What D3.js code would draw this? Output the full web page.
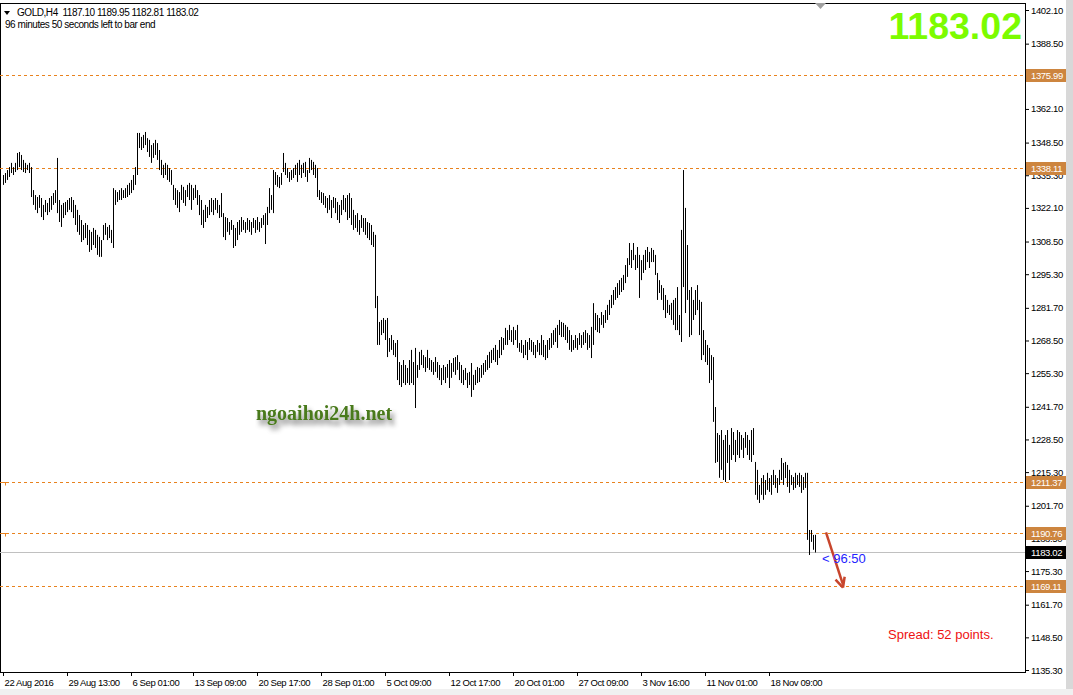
<!DOCTYPE html>
<html><head><meta charset="utf-8">
<script src="https://cdn.jsdelivr.net/npm/d3@7"></script>
<style>
html,body{margin:0;padding:0;background:#fff;overflow:hidden}
svg{display:block}
</style></head><body>
<svg id="c" width="1073" height="695"></svg>
<script>
// ---- DATA ----
const symbol = "GOLD,H4";
const lastOHLC = [1187.10, 1189.95, 1182.81, 1183.02];
const timerText = "96 minutes 50 seconds left to bar end";
const highs = [1335.4,1336.2,1337.4,1338.6,1340.3,1338.6,1340.3,1344.3,1344.7,1343.5,1341.5,1340.3,1339.5,1340.3,1338.6,1329.3,1327.3,1326.5,1327.3,1326.1,
1323.3,1325.3,1324.1,1326.1,1326.9,1328.1,1329.3,1342.3,1325.3,1323.3,1324.1,1324.5,1325.3,1326.1,1326.5,1325.3,1323.3,1321.3,1319.2,1317.2,
1315.2,1316.0,1315.2,1313.2,1312.4,1314.0,1313.2,1311.2,1310.4,1309.1,1315.2,1316.0,1314.4,1315.2,1313.2,1330.1,1329.3,1328.5,1329.3,1330.1,
1329.3,1330.1,1331.4,1332.2,1333.4,1335.4,1338.6,1352.4,1352.4,1350.8,1351.6,1352.8,1350.3,1349.6,1347.5,1348.3,1349.6,1348.3,1345.5,1341.5,
1339.5,1340.3,1339.5,1338.2,1337.4,1331.4,1330.1,1329.3,1328.5,1331.4,1330.6,1329.3,1331.4,1332.2,1331.4,1330.1,1331.4,1329.3,1327.3,1325.3,
1321.3,1323.3,1322.5,1325.3,1326.1,1325.3,1326.1,1325.3,1323.3,1328.1,1320.0,1318.4,1318.0,1316.4,1317.2,1315.2,1314.0,1316.4,1317.2,1318.4,
1317.2,1316.4,1318.0,1317.2,1316.4,1318.0,1317.2,1318.4,1316.4,1318.0,1319.2,1320.0,1322.5,1330.1,1327.3,1337.4,1336.6,1335.4,1334.6,1336.2,
1344.3,1340.3,1338.2,1336.6,1337.4,1338.2,1339.5,1340.3,1341.5,1339.5,1340.3,1340.7,1337.4,1342.3,1341.5,1340.7,1339.5,1338.2,1329.3,1328.5,
1328.1,1326.9,1326.1,1327.3,1325.3,1326.5,1326.1,1324.5,1323.3,1325.3,1327.3,1326.1,1327.3,1328.1,1326.1,1321.3,1319.2,1320.0,1317.2,1319.2,
1318.0,1318.0,1316.4,1316.0,1315.2,1312.4,1311.2,1286.5,1276.0,1276.8,1277.6,1276.8,1277.6,1269.5,1270.7,1268.7,1267.5,1268.7,1259.8,1258.6,
1260.6,1258.6,1257.4,1260.6,1264.7,1259.8,1265.5,1258.6,1263.9,1264.7,1262.6,1261.8,1264.7,1261.4,1260.6,1259.8,1261.8,1259.8,1258.6,1257.4,
1258.6,1257.8,1259.0,1260.6,1259.4,1261.4,1261.8,1262.6,1259.8,1258.6,1256.6,1257.4,1255.4,1255.8,1259.4,1254.6,1256.6,1257.8,1257.4,1258.6,
1259.4,1260.6,1262.6,1263.9,1264.7,1265.5,1266.7,1264.7,1268.7,1269.9,1269.5,1273.6,1272.7,1274.8,1272.7,1274.0,1272.7,1274.8,1267.5,1268.7,
1266.7,1268.7,1267.9,1269.5,1268.7,1267.9,1266.7,1268.7,1267.5,1270.7,1268.7,1266.7,1268.7,1269.5,1271.5,1272.7,1273.6,1274.8,1276.8,1276.0,
1275.6,1274.8,1274.0,1272.7,1270.7,1268.7,1270.7,1269.5,1271.5,1270.7,1271.9,1272.7,1271.5,1270.7,1274.0,1283.6,1279.6,1278.8,1277.6,1280.0,
1278.8,1280.8,1282.9,1284.9,1286.9,1288.9,1290.1,1291.7,1292.9,1293.8,1295.0,1299.0,1301.8,1307.9,1305.1,1307.9,1303.1,1306.3,1303.1,1301.0,
1303.1,1305.1,1306.3,1304.3,1305.9,1305.1,1303.1,1295.8,1292.9,1290.9,1289.7,1286.9,1284.9,1282.9,1283.7,1284.9,1285.7,1290.1,1278.8,1313.2,
1337.4,1322.1,1307.1,1288.9,1290.1,1284.9,1288.9,1290.9,1284.9,1284.1,1272.7,1268.7,1266.7,1265.5,1262.6,1261.8,1241.6,1231.1,1230.3,1232.3,
1228.3,1230.3,1232.3,1226.3,1233.1,1231.5,1228.3,1232.3,1231.5,1230.3,1229.1,1231.5,1230.3,1228.3,1232.3,1233.1,1219.4,1216.2,1210.1,1212.9,
1214.1,1212.1,1215.0,1212.9,1214.1,1216.2,1214.1,1212.9,1216.2,1221.0,1219.0,1219.4,1218.2,1216.2,1214.1,1213.3,1215.0,1214.1,1215.0,1214.1,
1213.3,1215.0,1215.0,1191.9,1191.9,1189.9,1189.95];
const lows = [1331.4,1332.2,1333.4,1334.6,1336.2,1335.4,1336.6,1337.4,1338.6,1337.4,1336.6,1336.2,1337.4,1336.2,1326.5,1323.3,1321.3,1320.0,1322.1,1318.4,
1317.2,1320.4,1319.2,1320.4,1321.3,1323.3,1324.1,1320.0,1316.4,1314.4,1318.0,1319.2,1320.4,1321.3,1320.4,1318.0,1315.2,1312.4,1311.2,1308.3,
1309.1,1309.9,1307.1,1304.3,1305.1,1307.1,1305.9,1303.1,1302.3,1302.3,1309.1,1311.2,1309.1,1309.9,1307.9,1305.9,1323.3,1324.5,1325.3,1325.3,
1326.1,1326.1,1326.5,1327.3,1328.1,1329.3,1331.4,1335.4,1346.3,1345.5,1346.3,1347.5,1344.7,1342.7,1340.3,1342.3,1343.5,1341.5,1337.4,1335.4,
1334.2,1335.4,1333.4,1332.6,1331.4,1325.3,1323.3,1322.1,1320.4,1325.3,1324.1,1322.9,1326.5,1325.3,1321.3,1325.3,1326.1,1323.3,1319.2,1315.2,
1314.0,1316.4,1318.0,1319.2,1320.4,1319.2,1321.3,1320.0,1318.0,1318.4,1310.3,1309.1,1312.4,1311.2,1313.2,1305.9,1306.7,1309.1,1311.2,1312.4,
1313.2,1312.0,1313.2,1312.4,1311.2,1314.0,1312.0,1313.2,1312.4,1314.0,1315.2,1307.5,1315.2,1320.0,1321.3,1320.0,1331.4,1330.6,1330.1,1331.4,
1336.6,1335.4,1334.2,1332.6,1333.4,1334.2,1335.4,1332.6,1335.4,1334.2,1336.2,1334.6,1332.6,1336.2,1337.4,1335.4,1334.2,1326.5,1325.3,1324.1,
1323.3,1322.1,1320.0,1321.3,1318.0,1322.1,1320.0,1317.2,1316.0,1319.2,1321.3,1320.4,1317.2,1318.0,1315.2,1313.2,1314.0,1312.4,1311.2,1314.0,
1312.4,1311.2,1309.9,1309.1,1307.1,1306.3,1281.6,1266.7,1266.7,1270.7,1271.5,1268.7,1261.8,1263.9,1264.7,1262.6,1261.8,1252.5,1250.5,1249.7,
1251.3,1250.5,1251.3,1250.5,1251.3,1250.5,1241.2,1253.4,1256.6,1258.6,1257.4,1255.8,1257.4,1256.6,1255.8,1254.6,1255.8,1253.4,1252.5,1250.5,
1252.5,1251.3,1253.4,1249.3,1253.4,1255.8,1254.6,1256.6,1252.5,1251.3,1250.5,1252.5,1249.3,1250.5,1245.7,1248.5,1250.5,1251.3,1251.7,1253.4,
1254.6,1255.8,1256.6,1257.4,1259.4,1260.6,1259.8,1258.6,1261.4,1262.6,1264.7,1266.7,1266.7,1268.7,1267.9,1266.7,1268.7,1265.5,1263.9,1263.5,
1261.4,1262.6,1260.6,1264.7,1263.9,1262.6,1261.4,1263.9,1262.6,1262.6,1261.8,1260.6,1261.4,1264.7,1265.5,1266.7,1267.9,1265.5,1270.7,1269.9,
1269.9,1268.7,1267.5,1264.7,1263.9,1264.7,1265.5,1264.7,1266.7,1265.5,1266.7,1267.5,1264.7,1265.5,1261.4,1266.7,1272.7,1271.9,1271.5,1274.8,
1273.6,1275.6,1276.8,1278.8,1281.6,1282.9,1284.9,1285.7,1286.9,1288.1,1288.9,1291.7,1294.2,1299.0,1297.8,1301.0,1297.0,1297.8,1285.7,1292.9,
1295.8,1297.0,1300.2,1297.8,1300.2,1300.2,1295.0,1284.9,1287.7,1284.9,1280.8,1277.6,1279.6,1278.8,1276.8,1274.8,1272.7,1272.7,1270.7,1267.9,
1290.1,1279.6,1284.9,1269.9,1270.7,1276.8,1278.8,1280.8,1270.7,1260.6,1262.6,1259.8,1258.6,1251.3,1252.5,1235.6,1219.0,1219.4,1213.0,1216.2,
1212.1,1211.3,1219.0,1212.1,1220.2,1222.2,1219.4,1222.2,1221.0,1224.3,1221.0,1225.1,1222.2,1220.2,1219.4,1222.2,1206.1,1204.1,1202.8,1206.1,
1204.1,1206.1,1208.1,1207.3,1206.1,1210.1,1208.9,1206.9,1210.1,1212.1,1210.1,1212.9,1209.3,1206.9,1210.1,1208.1,1208.9,1210.1,1209.3,1206.9,
1208.1,1208.9,1187.9,1181.8,1187.1,1183.9,1182.81];
const xTickBars = [0,32,64,95,127,159,191,223,255,287,319,351,383];
const xTickLabels = ["22 Aug 2016","29 Aug 13:00","6 Sep 01:00","13 Sep 09:00","20 Sep 17:00","28 Sep 01:00","5 Oct 09:00","12 Oct 17:00","20 Oct 01:00","27 Oct 09:00","3 Nov 16:00","11 Nov 01:00","18 Nov 09:00"];
const yTicks = [1402.10,1388.50,1362.10,1348.50,1335.30,1322.10,1308.50,1295.30,1281.70,1268.50,1255.30,1241.70,1228.50,1215.30,1201.70,1188.50,1175.30,1161.70,1148.50,1135.30];
const levels = [1375.99,1338.11,1211.37,1190.76,1169.11];
const bidPrice = 1183.02;
const arrowFrom = [1190.9, 411.5];   // [price, bar position]
const arrowTo = [1168.6, 420];
const countdown = "< 96:50";
const spreadText = "Spread: 52 points.";
const watermark = "ngoaihoi24h.net";

// ---- CHART ----
const SANS = '"Liberation Sans", Arial, sans-serif';
const svg = d3.select("#c");
const W = 1073, H = 695;
const axisX = 1025, axisY = 672;
const x = d3.scaleLinear().domain([0, 511]).range([3, 1025]);
const y = d3.scaleLinear().domain([1135.3, 1402.1]).range([670, 10]);

const defs = svg.append("defs");
const f = defs.append("filter").attr("id","sh").attr("x","-20%").attr("y","-60%").attr("width","140%").attr("height","240%");
f.append("feGaussianBlur").attr("in","SourceAlpha").attr("stdDeviation",2.4).attr("result","b");
f.append("feOffset").attr("in","b").attr("dx",3).attr("dy",5).attr("result","o");
f.append("feFlood").attr("flood-color","#000").attr("flood-opacity",0.5);
f.append("feComposite").attr("in2","o").attr("operator","in").attr("result","s");
const fm = f.append("feMerge"); fm.append("feMergeNode").attr("in","s"); fm.append("feMergeNode").attr("in","SourceGraphic");

// window frame
svg.append("rect").attr("x",0).attr("y",0).attr("width",W).attr("height",H).attr("fill","#fff");
svg.append("rect").attr("x",0).attr("y",689).attr("width",W).attr("height",6).attr("fill","#f0f0f0");
svg.append("rect").attr("x",1066).attr("y",0).attr("width",7).attr("height",689).attr("fill","#d8d8d8");
svg.append("line").attr("x1",0.5).attr("x2",0.5).attr("y1",3).attr("y2",axisY).attr("stroke","#000");
svg.append("line").attr("x1",0).attr("x2",axisX).attr("y1",3.5).attr("y2",3.5).attr("stroke","#000");

// level lines
svg.append("g").selectAll("line").data(levels).join("line")
  .attr("x1",0).attr("x2",axisX).attr("y1",d=>Math.round(y(d))+0.5).attr("y2",d=>Math.round(y(d))+0.5)
  .attr("stroke","#e8821e").attr("stroke-width",1).attr("stroke-dasharray","3,3");
// bid line
svg.append("line").attr("x1",0).attr("x2",axisX).attr("y1",Math.round(y(bidPrice))+0.5).attr("y2",Math.round(y(bidPrice))+0.5)
  .attr("stroke","#c0c0c0");

// bars
svg.append("g").selectAll("line").data(highs).join("line")
  .attr("x1",(d,i)=>Math.round(x(i))+0.5).attr("x2",(d,i)=>Math.round(x(i))+0.5)
  .attr("y1",d=>y(d)).attr("y2",(d,i)=>y(lows[i]))
  .attr("stroke","#000").attr("stroke-width",1);

// axes
const ax = svg.append("g").attr("transform",`translate(${axisX},0)`)
  .call(d3.axisRight(y).tickValues(yTicks).tickFormat(d3.format(".2f")).tickSize(4).tickSizeOuter(0));
ax.select(".domain").remove();
ax.selectAll("text").attr("x",6).attr("fill","#000").style("font-family",SANS).style("font-size","9.5px").style("letter-spacing","-0.35px");
ax.selectAll(".tick line").attr("stroke","#000");
svg.append("line").attr("x1",axisX+0.5).attr("x2",axisX+0.5).attr("y1",3).attr("y2",axisY+0.5).attr("stroke","#000");

const bx = svg.append("g").attr("transform",`translate(0,${axisY})`)
  .call(d3.axisBottom(x).tickValues(xTickBars).tickFormat((d,i)=>xTickLabels[i]).tickSize(4).tickSizeOuter(0));
bx.select(".domain").remove();
bx.selectAll("text").attr("text-anchor","start").attr("x",1).attr("dy",0).attr("y",14).attr("fill","#000")
  .style("font-family",SANS).style("font-size","9.5px").style("letter-spacing","-0.4px");
bx.selectAll(".tick line").attr("stroke","#000");
svg.append("line").attr("x1",0).attr("x2",axisX+1).attr("y1",axisY+0.5).attr("y2",axisY+0.5).attr("stroke","#000");

// level labels
const lab = svg.append("g");
levels.forEach(v=>{
  const yy = Math.round(y(v));
  lab.append("rect").attr("x",axisX+1).attr("y",yy-6).attr("width",40).attr("height",13).attr("fill","#cd853f");
  lab.append("text").attr("x",axisX+6).attr("y",yy+4).attr("fill","#fff").style("font-family",SANS).style("font-size","9.5px").style("letter-spacing","-0.35px").text(v.toFixed(2));
});
{
  const yy = Math.round(y(bidPrice));
  lab.append("rect").attr("x",axisX+1).attr("y",yy-6).attr("width",40).attr("height",13).attr("fill","#000");
  lab.append("text").attr("x",axisX+6).attr("y",yy+4).attr("fill","#fff").style("font-family",SANS).style("font-size","9.5px").style("letter-spacing","-0.35px").text(bidPrice.toFixed(2));
}
// small level anchors at left edge
svg.append("g").selectAll("path").data([1211.37,1190.76]).join("path")
  .attr("d",d=>{const yy=Math.round(y(d))+0.5; return `M2,${yy} L6,${yy} M5.5,${yy} L5.5,${yy+3}`;})
  .attr("stroke","#e8821e").attr("fill","none");

// header
svg.append("path").attr("d","M4,11 L10,11 L7,15 Z").attr("fill","#000");
svg.append("text").attr("x",17).attr("y",16).attr("fill","#000").style("font-family",SANS).style("font-size","10px").style("letter-spacing","-0.45px").style("white-space","pre")
  .text(symbol + "  " + lastOHLC.map(d=>d.toFixed(2)).join(" "));
svg.append("text").attr("x",5).attr("y",28).attr("fill","#000").style("font-family",SANS).style("font-size","10px").style("letter-spacing","-0.45px").text(timerText);
// shift marker
svg.append("path").attr("d","M815,3 L826,3 L820.5,9 Z").attr("fill","#a0a0a0");

// big price
svg.append("text").attr("x",1022).attr("y",39).attr("text-anchor","end").attr("fill","#7cfc00")
  .style("font-family",SANS).style("font-size","37.5px").style("font-weight","bold").text(bidPrice.toFixed(2));

// watermark
svg.append("text").attr("x",256).attr("y",420).attr("fill","#4a7a1c").attr("filter","url(#sh)")
  .style("font-family",'"Liberation Serif", "Times New Roman", serif').style("font-size","20px").style("font-weight","bold").text(watermark);

// arrow
const ax1 = x(arrowFrom[1]), ay1 = y(arrowFrom[0]), ax2 = x(arrowTo[1]), ay2 = y(arrowTo[0]);
svg.append("line").attr("x1",ax1).attr("y1",ay1).attr("x2",ax2).attr("y2",ay2-3).attr("stroke","#c8452c").attr("stroke-width",2.5);
const ang = Math.atan2(ay2-ay1, ax2-ax1);
const hl = 11, hw = 0.45;
svg.append("path").attr("d",`M${ax2},${ay2} L${ax2-hl*Math.cos(ang-hw)},${ay2-hl*Math.sin(ang-hw)} M${ax2},${ay2} L${ax2-hl*Math.cos(ang+hw)},${ay2-hl*Math.sin(ang+hw)}`)
  .attr("stroke","#c8452c").attr("stroke-width",2.5).attr("fill","none");

// countdown & spread
svg.append("text").attr("x",822).attr("y",563).attr("fill","#2323ff").style("font-family",SANS).style("font-size","13px").style("white-space","pre").text(countdown);
svg.append("text").attr("x",888).attr("y",639).attr("fill","#ee1111").style("font-family",SANS).style("font-size","13px").text(spreadText);
</script>
</body></html>
